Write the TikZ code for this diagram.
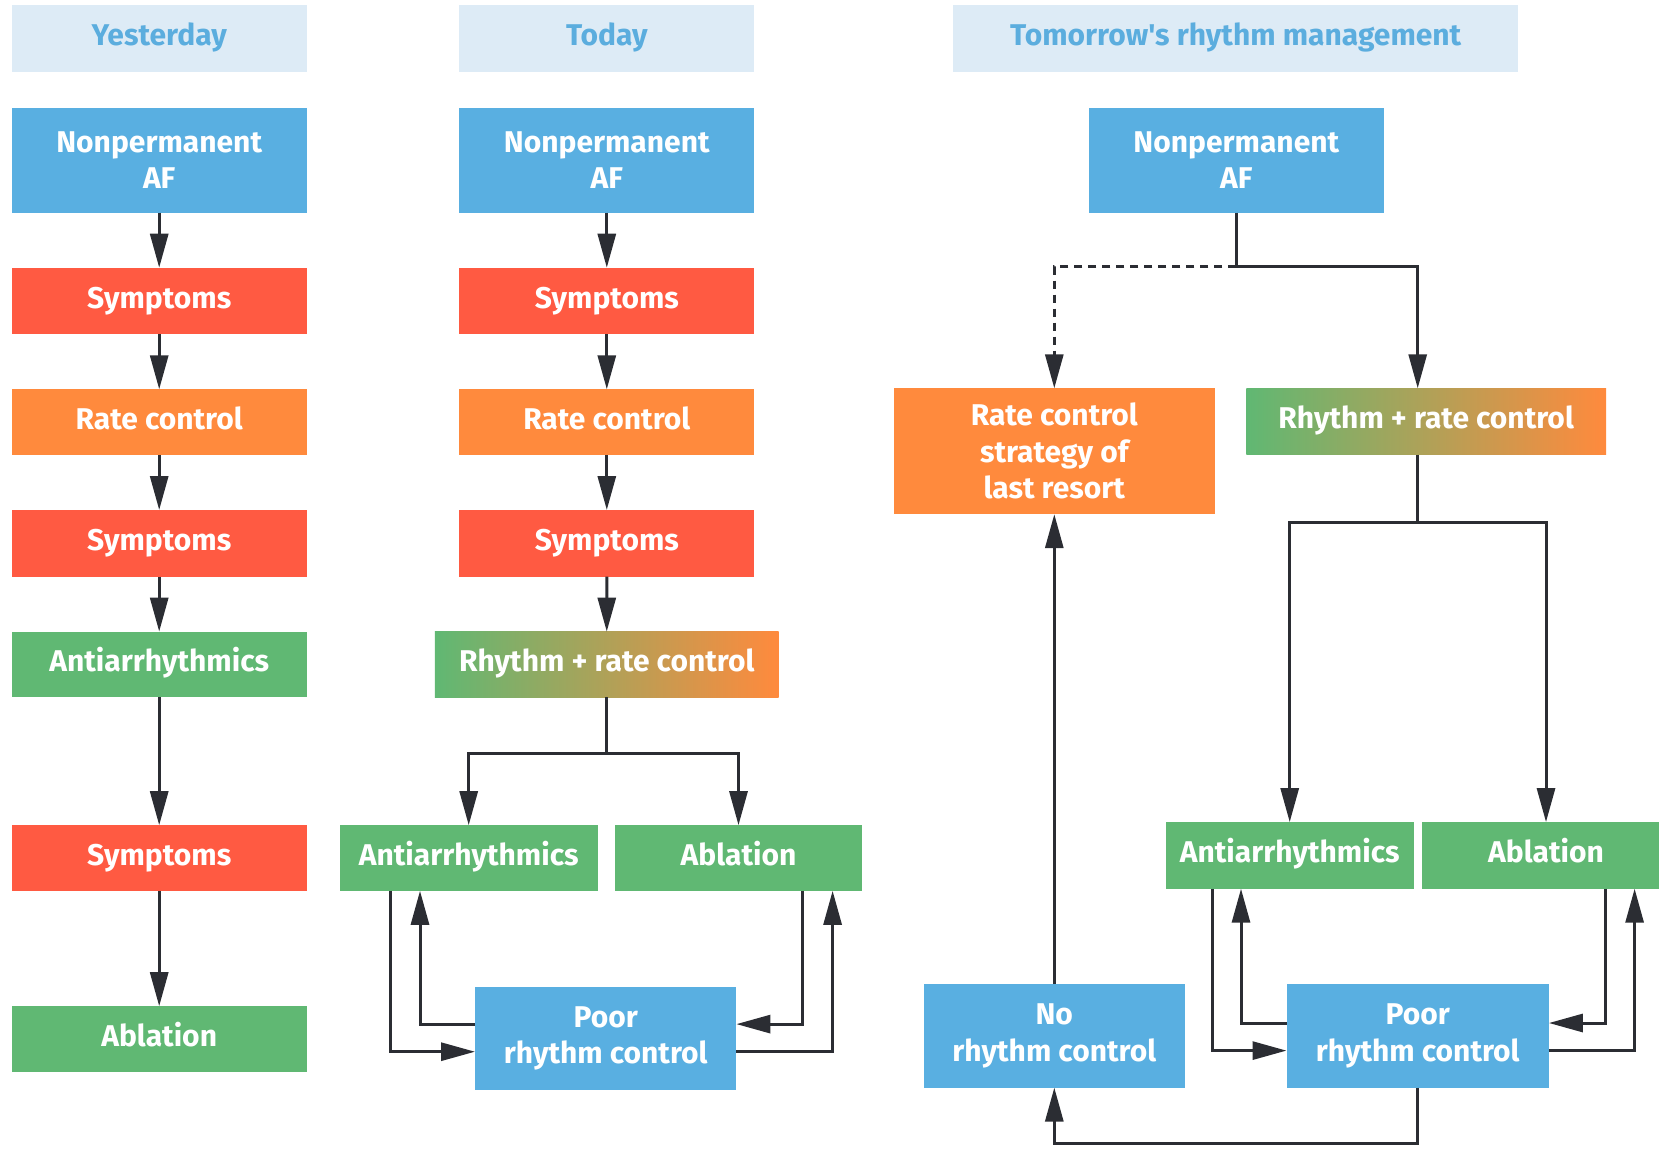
\documentclass[tikz,border=0pt]{standalone}
\usepackage{fontspec}
\setmainfont{Fira Sans}[Ligatures=TeXOff]
\usetikzlibrary{arrows.meta}
\definecolor{cblue}{HTML}{59AFE1}
\definecolor{cred}{HTML}{FF5A42}
\definecolor{corange}{HTML}{FF8A3D}
\definecolor{cgreen}{HTML}{60B873}
\definecolor{chead}{HTML}{DDEBF6}
\definecolor{cheadtxt}{HTML}{5BADDE}
\definecolor{cline}{HTML}{2B2D33}
\tikzset{
  box/.style={rectangle, inner sep=0pt, outer sep=0pt, text=white, align=center,
    font=\fontsize{30}{36.5}\selectfont\bfseries},
  one/.style={text height=21.5pt, text depth=7pt},
  headbox/.style={rectangle, inner sep=0pt, outer sep=0pt, fill=chead, text=cheadtxt,
    font=\fontsize{30}{36}\selectfont\bfseries, minimum height=66.7pt, text height=21.5pt, text depth=7pt},
  conn/.style={draw=cline, line width=3pt},
  arr/.style={conn, -{Triangle[length=34pt,width=18pt]}},
  dashline/.style={dash pattern=on 8pt off 6pt},
}
\begin{document}
\begin{tikzpicture}[x=1pt,y=-1pt]
\useasboundingbox (0,0) rectangle (1659,1148);
% headers
\node[headbox, minimum width=295.2pt] (h1) at (159.2,38.65) {Yesterday};
\node[headbox, minimum width=295.2pt] (h2) at (606.8,38.65) {Today};
\node[headbox, minimum width=564.9pt] (h3) at (1235.75,38.65) {Tomorrow's rhythm management};
% column 1
\node[box, fill=cblue, minimum width=295.2pt, minimum height=104.8pt] (y1) at (159.2,160.3) {Nonpermanent\\AF};
\node[box, one, fill=cred, minimum width=295.2pt, minimum height=66.6pt] (y2) at (159.2,301) {Symptoms};
\node[box, one, fill=corange, minimum width=295.2pt, minimum height=65.6pt] (y3) at (159.2,422.1) {Rate control};
\node[box, one, fill=cred, minimum width=295.2pt, minimum height=66.6pt] (y4) at (159.2,543.3) {Symptoms};
\node[box, one, fill=cgreen, minimum width=295.2pt, minimum height=65.6pt] (y5) at (159.2,664.4) {Antiarrhythmics};
\node[box, one, fill=cred, minimum width=295.2pt, minimum height=65.6pt] (y6) at (159.2,858) {Symptoms};
\node[box, one, fill=cgreen, minimum width=295.2pt, minimum height=65.6pt] (y7) at (159.2,1039) {Ablation};
\draw[arr] (y1.south) -- (y2.north);
\draw[arr] (y2.south) -- (y3.north);
\draw[arr] (y3.south) -- (y4.north);
\draw[arr] (y4.south) -- (y5.north);
\draw[arr] (y5.south) -- (y6.north);
\draw[arr] (y6.south) -- (y7.north);
% column 2
\node[box, fill=cblue, minimum width=295.2pt, minimum height=104.8pt] (t1) at (606.8,160.3) {Nonpermanent\\AF};
\node[box, one, fill=cred, minimum width=295.2pt, minimum height=66.6pt] (t2) at (606.8,301) {Symptoms};
\node[box, one, fill=corange, minimum width=295.2pt, minimum height=65.6pt] (t3) at (606.8,422.1) {Rate control};
\node[box, one, fill=cred, minimum width=295.2pt, minimum height=66.6pt] (t4) at (606.8,543.3) {Symptoms};
\node[box, one, left color=cgreen, right color=corange, minimum width=343.9pt, minimum height=65.6pt] (t5) at (606.75,664.4) {Rhythm + rate control};
\node[box, one, fill=cgreen, minimum width=258.2pt, minimum height=65.6pt] (t6) at (468.7,858) {Antiarrhythmics};
\node[box, one, fill=cgreen, minimum width=247.6pt, minimum height=65.6pt] (t7) at (738.5,858) {Ablation};
\node[box, fill=cblue, minimum width=261.4pt, minimum height=102.6pt] (t8) at (605.7,1038.4) {Poor\\rhythm control};
\draw[arr] (t1.south) -- (t2.north);
\draw[arr] (t2.south) -- (t3.north);
\draw[arr] (t3.south) -- (t4.north);
\draw[arr] (t4.south) -- (t5.north);
\draw[arr] (t5.south) -- ++(0,56.1) -| (t6.north);
\draw[arr] (t5.south) -- ++(0,56.1) -| (t7.north);
\draw[arr] ([xshift=-78.3pt]t6.south) |- ([yshift=-13.3pt]t8.west);
\draw[arr] ([yshift=14.3pt]t8.west) -| ([xshift=-48.7pt]t6.south);
\draw[arr] ([xshift=63.5pt]t7.south) |- ([yshift=14.3pt]t8.east);
\draw[arr] ([yshift=-13.3pt]t8.east) -| ([xshift=94.1pt]t7.south);
% column 3
\node[box, fill=cblue, minimum width=295.2pt, minimum height=104.8pt] (m1) at (1236.3,160.3) {Nonpermanent\\AF};
\node[box, fill=corange, minimum width=320.6pt, minimum height=125.9pt] (m2) at (1054.3,451.25) {Rate control\\strategy of\\last resort};
\node[box, one, left color=cgreen, right color=corange, minimum width=359.7pt, minimum height=66.6pt] (m3) at (1426.15,421.6) {Rhythm + rate control};
\node[box, one, fill=cgreen, minimum width=247.6pt, minimum height=66.6pt] (m4) at (1289.7,855.4) {Antiarrhythmics};
\node[box, one, fill=cgreen, minimum width=248pt, minimum height=66.6pt] (m5) at (1546,855.4) {Ablation};
\node[box, fill=cblue, minimum width=262.4pt, minimum height=103.6pt] (m6) at (1417.7,1035.8) {Poor\\rhythm control};
\node[box, fill=cblue, minimum width=261.4pt, minimum height=103.6pt] (m7) at (1054.3,1035.8) {No\\rhythm control};
\draw[conn] (m1.south) -- ++(0,53.9) coordinate (mj);
\draw[arr, dashline] (mj) -| (m2.north);
\draw[arr] (mj) -| ([xshift=-8.45pt]m3.north);
\draw[arr] ([xshift=-8.45pt]m3.south) -- ++(0,67.8) -| (m4.north);
\draw[arr] ([xshift=-8.45pt]m3.south) -- ++(0,67.8) -| (m5.north);
\draw[arr] ([xshift=-77.2pt]m4.south) |- ([yshift=-14.8pt]m6.west);
\draw[arr] ([yshift=12.8pt]m6.west) -| ([xshift=-48.7pt]m4.south);
\draw[arr] ([xshift=59pt]m5.south) |- ([yshift=12.8pt]m6.east);
\draw[arr] ([yshift=-14.8pt]m6.east) -| ([xshift=88.6pt]m5.south);
\draw[arr] (m7.north) -- (m2.south);
\draw[arr] (m6.south) -- ++(0,56.1) -| (m7.south);
\end{tikzpicture}
\end{document}
